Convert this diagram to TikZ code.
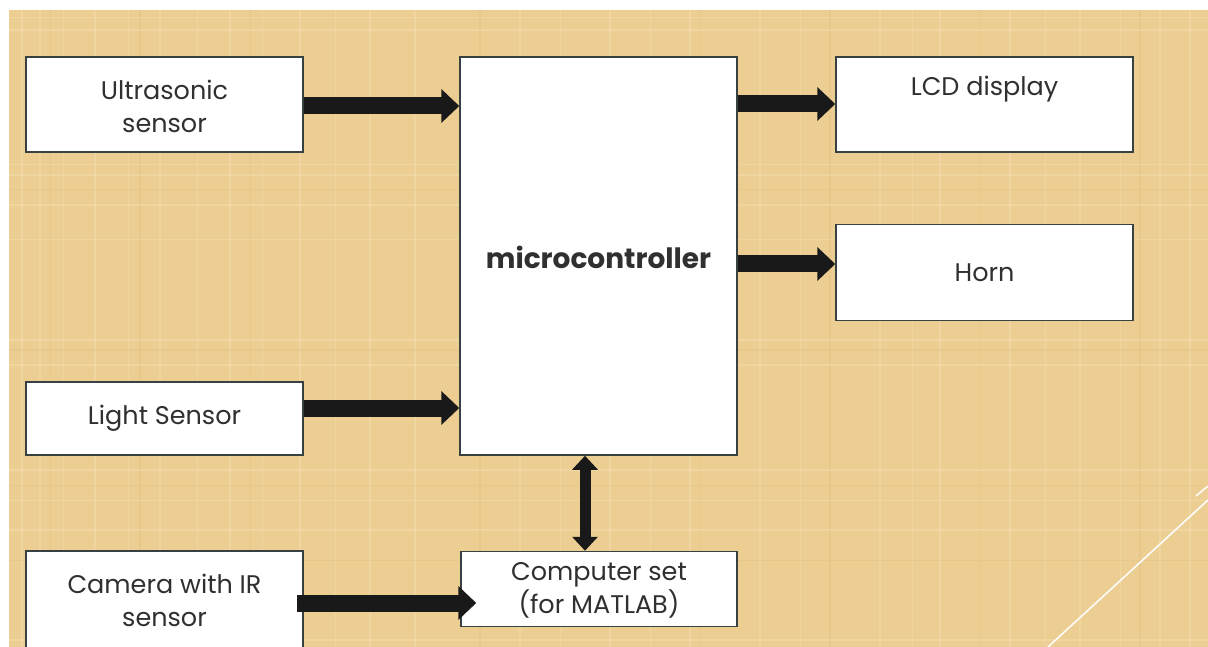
\documentclass[tikz,border=0pt]{standalone}
\usepackage{fontspec}
\setmainfont{Poppins}
\usetikzlibrary{arrows.meta}
\definecolor{parch}{RGB}{236,206,146}
\definecolor{parchlight}{RGB}{244,224,178}
\definecolor{parchdark}{RGB}{226,192,128}
\definecolor{boxline}{RGB}{55,65,65}
\definecolor{txt}{RGB}{48,48,48}
\tikzset{
  blk/.style={draw=boxline, line width=1.5pt, fill=white, text=txt, align=center,
    font=\fontsize{25.5}{33}\selectfont, inner sep=0pt},
  lbl/.style={text=txt, align=center, font=\fontsize{25.5}{33}\selectfont, inner sep=0pt},
  bigarrow/.style={line width=17pt, draw=black!90, -{Triangle[length=18pt,width=33pt]}},
  dblarrow/.style={line width=11pt, draw=black!90, {Triangle[length=14pt,width=25pt]}-{Triangle[length=14pt,width=25pt]}},
}
\begin{document}
\begin{tikzpicture}[x=1pt,y=-1pt]
\useasboundingbox (0,0) rectangle (1208,647);
\clip (0,0) rectangle (1208,647);
\fill[white] (0,0) rectangle (1208,647);
\fill[parch] (9,10) rectangle (1208,647);
% faint texture
\foreach \x/\w in {22/1.2,40/2,63/1,95/1.5,128/1,160/2,197/1,230/1.4,262/1,300/2,335/1,370/1.5,415/1.2,520/1.6,560/1,610/2,650/1,690/1.4,760/1.5,800/1,880/2,912/1,940/1.3,1010/1.8,1045/1,1080/1.4,1120/1,1160/2,1190/1.2}
  \draw[parchlight, line width=\w pt, opacity=0.45] (\x,10) -- (\x,647);
\foreach \x/\w in {50/1,140/1.2,250/1,480/1.2,700/1,830/1.2,980/1,1140/1.2}
  \draw[parchdark, line width=\w pt, opacity=0.4] (\x,10) -- (\x,647);
\foreach \y/\w in {18/1,30/1.5,165/1,175/2,205/1.5,240/1,340/1.4,365/2,470/1.5,500/1,530/1.8,640/1.5}
  \draw[parchlight, line width=\w pt, opacity=0.45] (9,\y) -- (1208,\y);
\foreach \y/\w in {190/1,350/1.2,485/1,560/1}
  \draw[parchdark, line width=\w pt, opacity=0.4] (9,\y) -- (1208,\y);
% decorative white lines
\draw[white!95!parch, line width=1.6pt] (1048,647) -- (1208,500);
\draw[white!95!parch, line width=1.6pt] (1196,496) -- (1208,486);

% boxes
\node[blk, minimum width=277pt, minimum height=95pt] (us) at (164.5,104.5) {};
\node[lbl] (ust) at (164.5,106) {Ultrasonic\\sensor};
\node[blk, minimum width=277pt, minimum height=73pt] (ls) at (164.5,418.5) {Light Sensor};
\node[blk, minimum width=277pt, minimum height=115pt] (cam) at (164.5,608.5) {};
\node[lbl] (camt) at (164.5,600) {Camera with IR\\sensor};
\node[blk, minimum width=277pt, minimum height=398pt] (mc) at (598.5,256) {};
\node[text=txt, font=\fontsize{28}{33}\selectfont\bfseries] (mct) at (598.5,257) {microcontroller};
\node[blk, minimum width=276pt, minimum height=75pt] (pc) at (599,589) {};
\node[lbl] (pct) at (599,590) {Computer set\\(for MATLAB)};
\node[blk, minimum width=297pt, minimum height=95pt] (lcd) at (984.5,104.5) {};
\node[lbl] (lcdt) at (984.5,89) {LCD display};
\node[blk, minimum width=297pt, minimum height=96pt] (horn) at (984.5,272.5) {Horn};

% arrows
\draw[bigarrow] (us.east |- 0,106) -- (mc.west |- 0,106);
\draw[bigarrow] (ls.east |- 0,408) -- (mc.west |- 0,408);
\draw[bigarrow] (mc.east |- 0,104) -- (lcd.west |- 0,104);
\draw[bigarrow] (mc.east |- 0,264) -- (horn.west |- 0,264);
\draw[bigarrow] ([xshift=-7pt]cam.east |- 0,603) -- ([xshift=16pt]pc.west |- 0,603);
\draw[dblarrow] (mc.south -| 585,0) -- (pc.north -| 585,0);
\end{tikzpicture}
\end{document}
